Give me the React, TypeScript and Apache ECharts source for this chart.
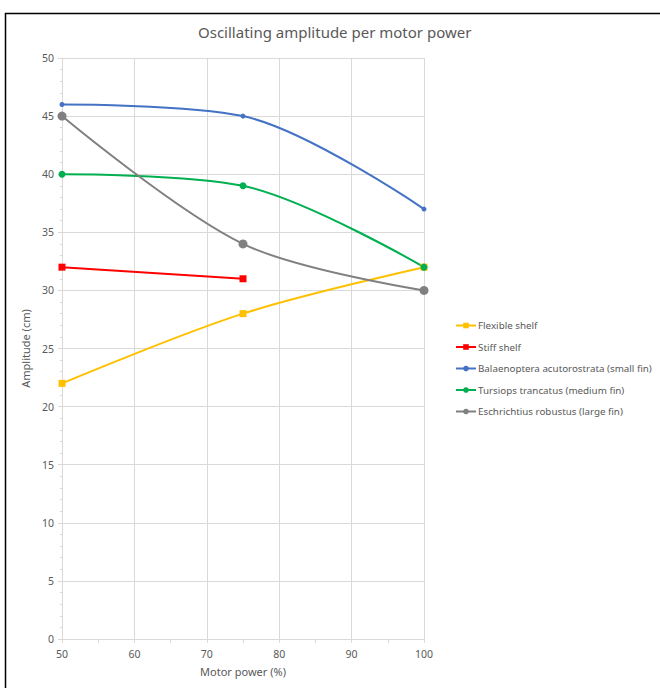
import React, { useEffect, useRef } from "react";
import * as echarts from "echarts";

// Motor power settings (%)
const power = [50, 75, 100];

// Oscillation amplitude (cm) for each fin / shelf configuration
const flexibleShelf = [22, 28, 32];
const stiffShelf = [32, 31];
const balaenoptera = [46, 45, 37];
const tursiops = [40, 39, 32];
const eschrichtius = [45, 34, 30];

const seriesNames = [
  "Flexible shelf",
  "Stiff shelf",
  "Balaenoptera acutorostrata (small fin)",
  "Tursiops trancatus (medium fin)",
  "Eschrichtius robustus (large fin)",
];

const pairs = (ys: number[]) => ys.map((y, i) => [power[i], y]);

const FONT = "'Noto Sans', 'Open Sans', sans-serif";
const TEXT = "#595959";
const GRID = "#d9d9d9";

export default function App() {
  const ref = useRef<HTMLDivElement>(null);

  useEffect(() => {
    if (!ref.current) return;
    const chart = echarts.init(ref.current, undefined, { renderer: "svg" });

    const line = (
      name: string,
      data: number[],
      color: string,
      symbol: string,
      symbolSize: number,
      smooth: boolean | number
    ) => ({
      name,
      type: "line",
      data: pairs(data),
      smooth,
      symbol,
      symbolSize,
      showAllSymbol: true,
      lineStyle: { color, width: 2 },
      itemStyle: { color, borderWidth: 0 },
    });

    chart.setOption({
      animation: false,
      backgroundColor: "#ffffff",
      textStyle: { fontFamily: FONT },
      title: {
        text: "Oscillating amplitude per motor power",
        left: 193,
        top: 19,
        textStyle: { fontFamily: FONT, fontSize: 15, fontWeight: "normal", color: TEXT },
      },
      legend: {
        orient: "vertical",
        left: 450,
        top: 315.5,
        itemWidth: 20,
        itemHeight: 7,
        itemGap: 11.5,
        textStyle: { fontFamily: FONT, fontSize: 9.8, color: TEXT, padding: [0, 0, 0, -3] },
        data: seriesNames,
      },
      grid: { left: 62, top: 58, right: 236, bottom: 49, containLabel: false },
      xAxis: {
        type: "value",
        min: 50,
        max: 100,
        interval: 10,
        name: "Motor power (%)",
        nameLocation: "middle",
        nameGap: 27,
        nameTextStyle: { fontFamily: FONT, fontSize: 11, color: TEXT },
        axisLine: { show: true, lineStyle: { color: GRID, width: 1 } },
        axisTick: { show: true, length: 4, lineStyle: { color: GRID } },
        minorTick: { show: true, splitNumber: 2, length: 4, lineStyle: { color: GRID } },
        axisLabel: { fontFamily: FONT, fontSize: 10.5, color: TEXT, margin: 9 },
        splitLine: { show: true, lineStyle: { color: GRID, width: 1 } },
      },
      yAxis: {
        type: "value",
        min: 0,
        max: 50,
        interval: 5,
        name: "Amplitude (cm)",
        nameLocation: "middle",
        nameGap: 26,
        nameTextStyle: { fontFamily: FONT, fontSize: 11, color: TEXT },
        axisLine: { show: true, lineStyle: { color: GRID, width: 1 } },
        axisTick: { show: true, length: 4, lineStyle: { color: GRID } },
        minorTick: { show: true, splitNumber: 5, length: 2, lineStyle: { color: GRID } },
        axisLabel: { fontFamily: FONT, fontSize: 10.5, color: TEXT, margin: 8 },
        splitLine: { show: true, lineStyle: { color: GRID, width: 1 } },
      },
      graphic: [
        {
          type: "line",
          shape: { x1: 5, y1: 13.5, x2: 660, y2: 13.5 },
          style: { stroke: "#000000", lineWidth: 1.5 },
          silent: true,
        },
        {
          type: "line",
          shape: { x1: 5.5, y1: 13, x2: 5.5, y2: 688 },
          style: { stroke: "#000000", lineWidth: 1.5 },
          silent: true,
        },
      ],
      series: [
        line(seriesNames[0], flexibleShelf, "#FFC000", "rect", 7, 0.33),
        line(seriesNames[1], stiffShelf, "#FF0000", "rect", 7, false),
        line(seriesNames[2], balaenoptera, "#4472C4", "circle", 5, 0.33),
        line(seriesNames[3], tursiops, "#00B050", "circle", 7, 0.33),
        line(seriesNames[4], eschrichtius, "#808080", "circle", 9, 0.33),
      ],
    });

    return () => chart.dispose();
  }, []);

  return (
    <div
      ref={ref}
      style={{ position: "fixed", left: 0, top: 0, width: 660, height: 688 }}
    />
  );
}
